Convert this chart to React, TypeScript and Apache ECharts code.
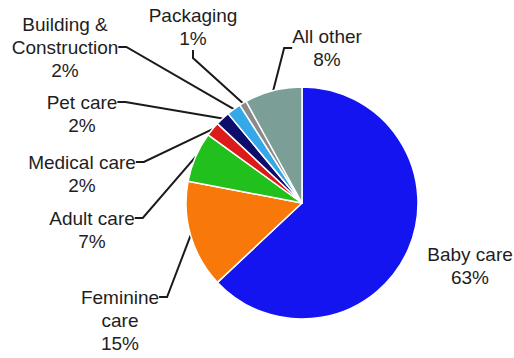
import React, { useEffect, useRef } from "react";
import * as echarts from "echarts";

const categories = [
  "Baby care",
  "Feminine care",
  "Adult care",
  "Medical care",
  "Pet care",
  "Building & Construction",
  "Packaging",
  "All other",
];
// label texts (empty lines / rich tokens only steer where the leader line attaches)
const labelNames = [
  "Baby care",
  "\n\nFeminine\ncare",
  "\nAdult care",
  "\nMedical care",
  "\nPet care",
  "Building &\nConstruction",
  "Packaging",
  "{p|All other}",
];
const values = [63, 15, 7, 2, 2, 2, 1, 8];
const colors = [
  "#1414f0",
  "#f8780a",
  "#22c01c",
  "#dd1a1a",
  "#0d0d6b",
  "#35a8e8",
  "#8a8a8a",
  "#7b9e96",
];

// label block anchors (layout only): x center, y middle of box
const labelPos: [number, number][] = [
  [470, 266],
  [120, 297],
  [92, 218],
  [82, 162],
  [82, 102],
  [65, 47],
  [193, 27],
  [327, 48],
];

export default function App() {
  const ref = useRef<HTMLDivElement>(null);
  useEffect(() => {
    const chart = echarts.init(ref.current!, null, { renderer: "svg" });
    chart.setOption({
      animation: false,
      backgroundColor: "#ffffff",
      series: [
        {
          type: "pie",
          center: [302, 203],
          radius: 116,
          startAngle: 90,
          clockwise: true,
          itemStyle: { borderColor: "#ffffff", borderWidth: 1.5 },
          label: {
            show: true,
            position: "outside",
            overflow: "none",
            fontFamily: "'Liberation Sans', Arial, sans-serif",
            fontSize: 19,
            lineHeight: 23,
            color: "#1e1e1e",
            align: "center",
            formatter: (p: any) => `${labelNames[p.dataIndex]}\n${p.value}%`,
            rich: {
              p: {
                width: 30,
                align: "center",
                fontFamily: "'Liberation Sans', Arial, sans-serif",
                fontSize: 19,
                lineHeight: 23,
                color: "#1e1e1e",
              },
            },
          },
          labelLine: {
            show: true,
            length: 10,
            length2: 8,
            lineStyle: { color: "#1a1a1a", width: 2 },
          },
          labelLayout: (p: any) => {
            const [x, y] = labelPos[p.dataIndex];
            return { x, y, align: "center", verticalAlign: "middle" };
          },
          data: categories.map((c, i) => ({
            name: c,
            value: values[i],
            itemStyle: { color: colors[i] },
            labelLine: { show: i !== 0 },
          })),
        },
      ],
    });
    return () => chart.dispose();
  }, []);
  return <div ref={ref} style={{ width: 514, height: 358, position: "absolute", left: 0, top: 0 }} />;
}
